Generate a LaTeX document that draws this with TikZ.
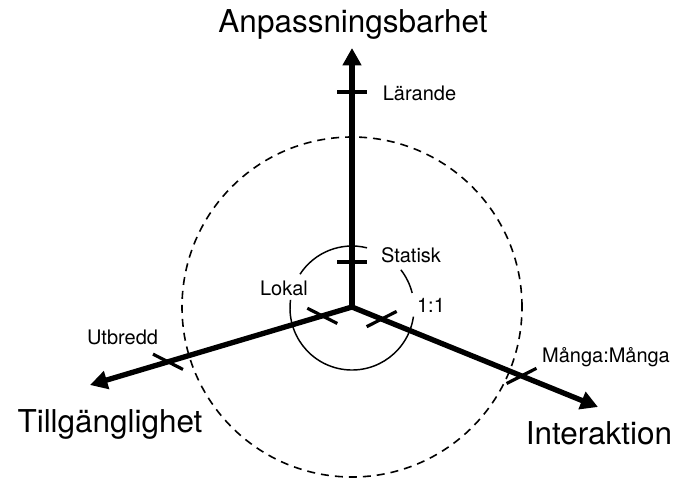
\documentclass[tikz,border=0pt]{standalone}
\usepackage{fontspec}
\setmainfont{TeX Gyre Heros}
\usetikzlibrary{arrows.meta,calc}
\begin{document}
\begin{tikzpicture}[x=0.75pt,y=0.75pt,
  axis/.style={line width=4pt, line cap=round, -{Triangle[length=13pt,width=13.5pt]}},
  tickmark/.style={line width=2.4pt},
  ring/.style={line width=1.1pt},
  dashring/.style={line width=1.2pt, dash pattern=on 6pt off 4.5pt},
  big/.style={font=\fontsize{23.6pt}{28pt}\selectfont, inner sep=0pt, anchor=base},
  lab/.style={font=\fontsize{15pt}{18pt}\selectfont, inner sep=0pt, anchor=base}]
\useasboundingbox (0,-479) rectangle (677,0);
\coordinate (O) at (352,-307);
\coordinate (C) at (352,-308);
\coordinate (TA) at (352,-48);
\coordinate (TL) at (90,-385);
\coordinate (TR) at (598,-407);

% circles
\draw[dashring] (O) circle[radius=127.5pt];
\draw[ring] ($(C)+(76:46.5pt)$) arc[start angle=76,end angle=147,radius=46.5pt];
\draw[ring] ($(C)+(172.5:46.5pt)$) arc[start angle=172.5,end angle=352,radius=46.5pt];
\draw[ring] ($(C)+(14:46.5pt)$) arc[start angle=14,end angle=38,radius=46.5pt];

% axes
\draw[axis] (O) -- (TA);
\draw[axis] (O) -- (TL);
\draw[axis] (O) -- (TR);

% tick positions
\coordinate (kStat) at ($(O)!33.75pt!(TA)$);
\coordinate (kLar) at ($(O)!161.25pt!(TA)$);
\coordinate (kLok) at ($(O)!23.25pt!(TL)$);
\coordinate (kUtb) at ($(O)!144pt!(TL)$);
\coordinate (kOne) at ($(O)!24pt!(TR)$);
\coordinate (kMan) at ($(O)!137.25pt!(TR)$);

% ticks on the vertical axis (horizontal)
\foreach \k in {kStat,kLar}{
  \draw[tickmark] ($(\k)+(180:11.25pt)$) -- ($(\k)+(0:11.25pt)$);
}
% ticks on the left axis
\foreach \k in {kLok,kUtb}{
  \draw[tickmark] ($(\k)+(153:12.6pt)$) -- ($(\k)+(-27:12.6pt)$);
}
% ticks on the right axis
\foreach \k in {kOne,kMan}{
  \draw[tickmark] ($(\k)+(207:12.6pt)$) -- ($(\k)+(27:12.6pt)$);
}

% labels
\node[big] (nA) at (353,-32) {Anpassningsbarhet};
\node[big] (nT) at (110,-432) {Tillgänglighet};
\node[big] (nI) at (599,-444) {Interaktion};
\node[lab] (lLar) at (419.5,-100) {Lärande};
\node[lab] (lStat) at (411,-262) {Statisk};
\node[lab] (lLok) at (284,-295) {Lokal};
\node[lab] (lOne) at (431,-312) {1:1};
\node[lab] (lUtb) at (122.5,-344) {Utbredd};
\node[lab] (lMan) at (606,-362.5) {Många:Många};
\end{tikzpicture}
\end{document}
